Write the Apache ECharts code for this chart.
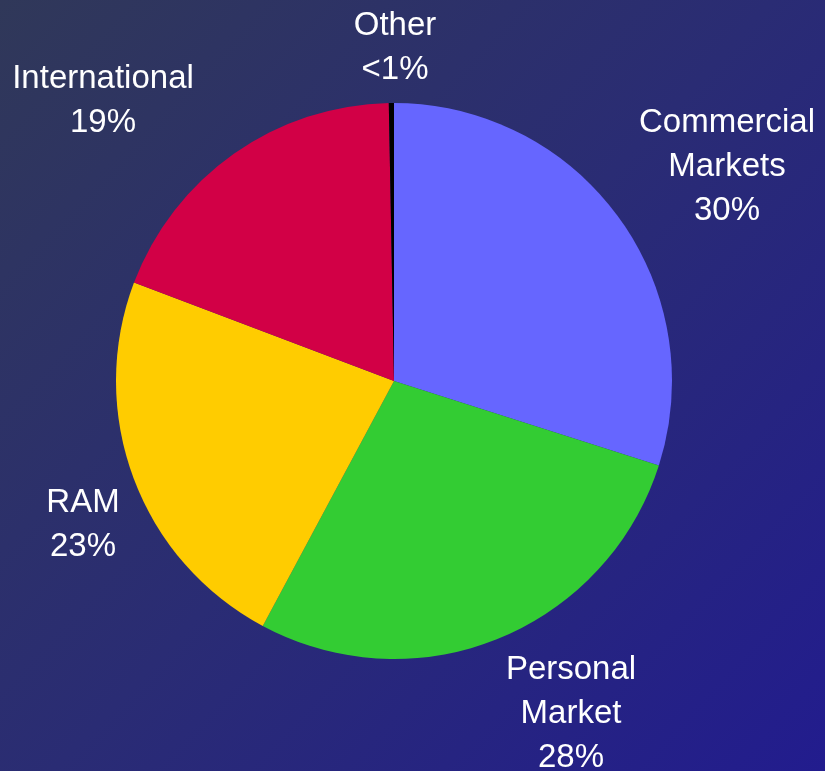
<!DOCTYPE html>
<html>
<head>
<meta charset="utf-8">
<title>Revenue by segment</title>
<script src="https://cdn.jsdelivr.net/npm/echarts@6/dist/echarts.min.js"></script>
<style>
  html, body { margin: 0; padding: 0; width: 825px; height: 771px; overflow: hidden; background: #2a2c74; }
  #chart { width: 825px; height: 771px; }
</style>
</head>
<body>
<div id="chart"></div>
<script>
// Segment names (line breaks as shown in the labels)
const categories = ['Commercial\nMarkets', 'Personal\nMarket', 'RAM', 'International', 'Other'];
// Share of total, percent
const shares = [30, 28, 23, 19, 0.3];
// Slice colours
const sliceColors = ['#6666ff', '#33cc33', '#ffcc00', '#d20046', '#000000'];

// Pie geometry and label anchors (offsets from the pie centre, px)
const CX = 394, CY = 381, R = 278;
const labelAnchors = [[333, -214], [177, 333], [-311, 144], [-291, -280], [1, -333]];

const chart = echarts.init(document.getElementById('chart'), null, { renderer: 'canvas' });

chart.setOption({
  animation: false,
  backgroundColor: {
    type: 'linear', x: 0, y: 0, x2: 1, y2: 1,
    colorStops: [
      { offset: 0, color: '#303859' },
      { offset: 0.5, color: '#2a2c74' },
      { offset: 1, color: '#221c8e' }
    ]
  },
  series: [{
    type: 'pie',
    center: [CX, CY],
    radius: R,
    startAngle: 90,
    clockwise: true,
    minAngle: 0,
    avoidLabelOverlap: false,
    silent: true,
    data: categories.map((name, i) => ({
      name: name,
      value: shares[i],
      itemStyle: { color: sliceColors[i] }
    })),
    itemStyle: { borderWidth: 0 },
    label: {
      show: true,
      position: 'outside',
      color: '#ffffff',
      fontFamily: '"Liberation Sans", Arial, sans-serif',
      fontSize: 33,
      lineHeight: 44,
      align: 'center',
      formatter: function (p) {
        const pct = p.value < 1 ? '<1' : Math.round(p.percent);
        return p.name + '\n' + pct + '%';
      }
    },
    labelLine: { show: false },
    labelLayout: function (params) {
      const a = labelAnchors[params.dataIndex];
      return { x: CX + a[0], y: CY + a[1], align: 'center', verticalAlign: 'middle' };
    }
  }]
});
</script>
</body>
</html>
